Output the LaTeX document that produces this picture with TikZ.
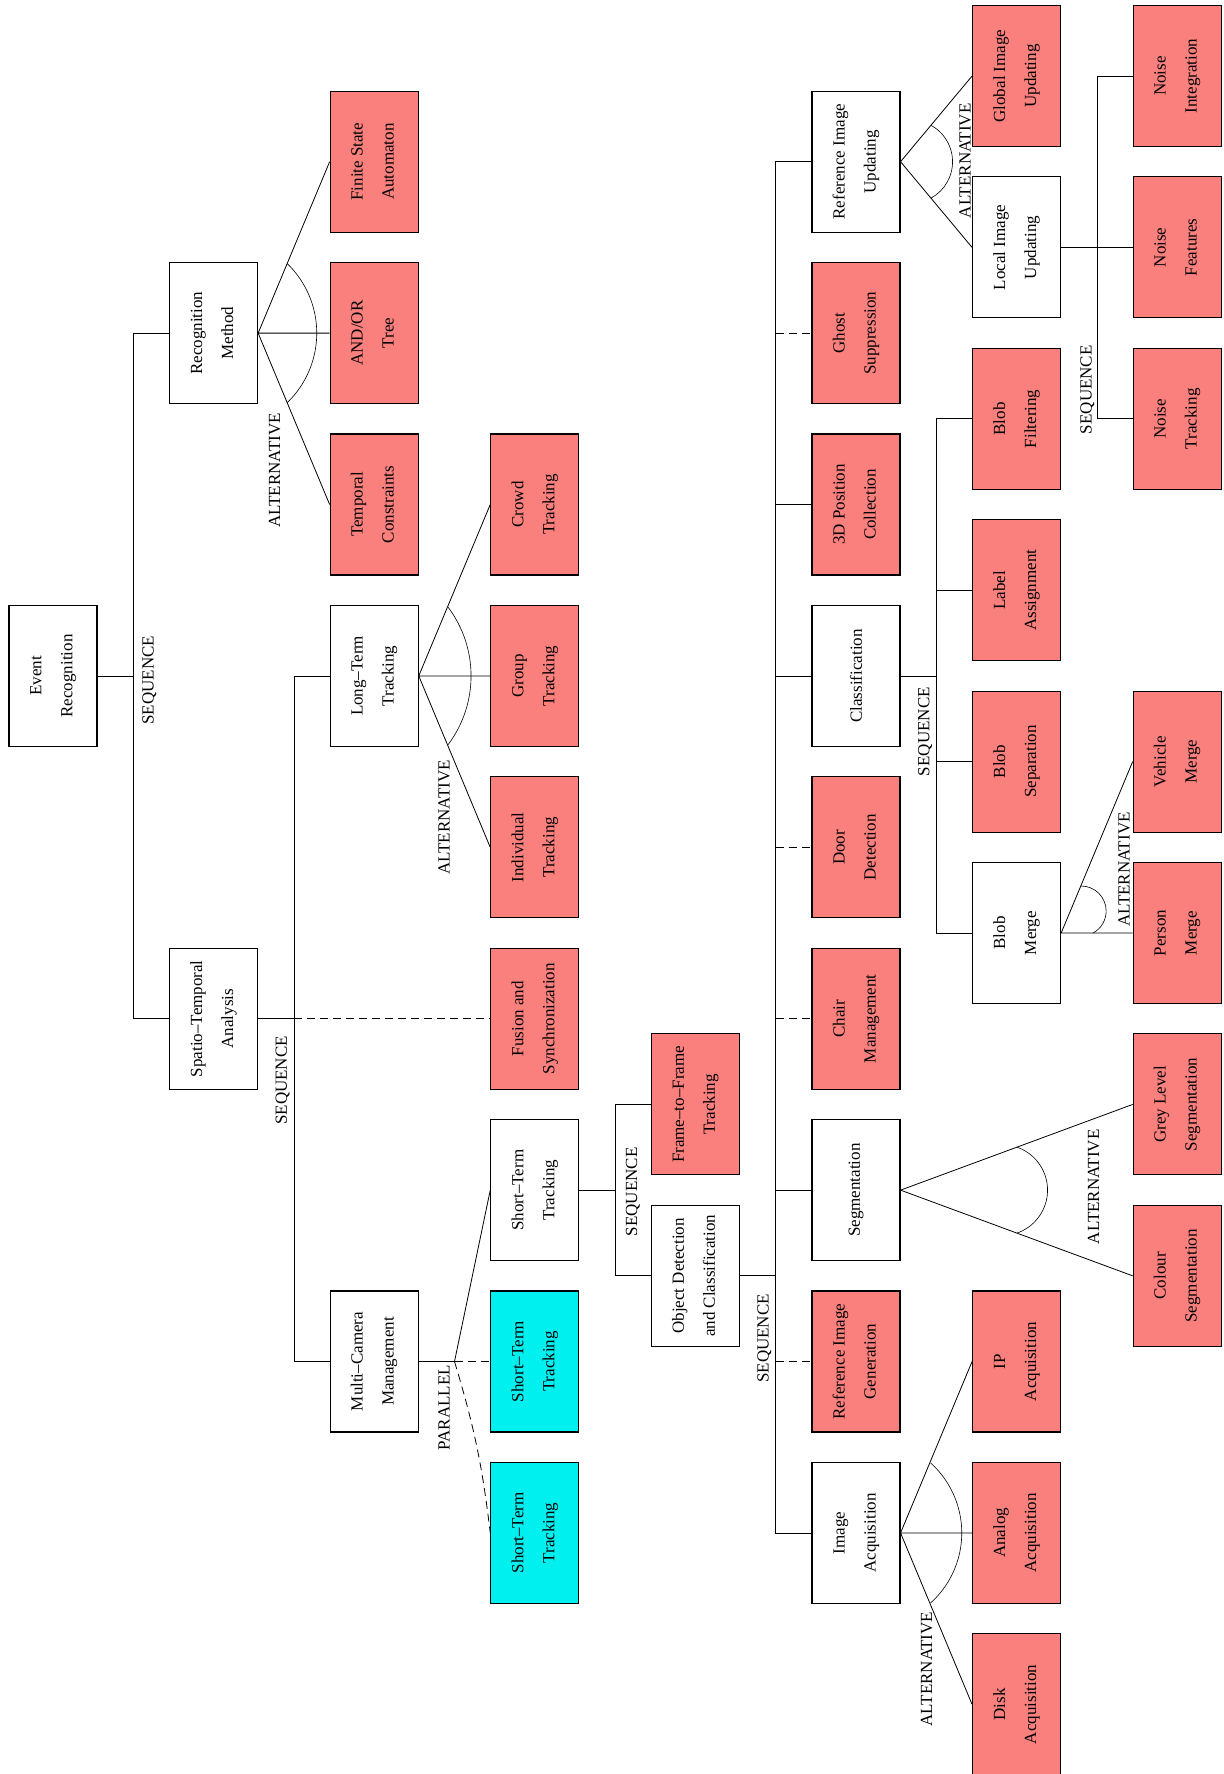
\documentclass[tikz,border=0pt]{standalone}
\usepackage{fontspec}
\setmainfont{Liberation Serif}
\usepackage{graphicx}
\usepackage{tikz}

\definecolor{salmon}{RGB}{250,128,125}
\definecolor{aqua}{RGB}{0,240,240}

\newcommand{\vlab}[2]{\rotatebox{90}{\begin{tabular}{@{}c@{}}#1\\[11pt]#2\end{tabular}}}
\newcommand{\vone}[1]{\rotatebox{90}{#1}}

\tikzset{
  box/.style={draw, line width=1.1pt, fill=white, minimum width=88pt, minimum height=141pt, inner sep=0pt},
  leaf/.style={box, fill=salmon},
  copy/.style={box, fill=aqua},
  rel/.style={rotate=90, inner sep=0pt},
  opt/.style={dash pattern=on 8pt off 5pt},
  alt/.style={line width=0.6pt}
}

\begin{document}
\begin{tikzpicture}[x=160.6pt, y=85.7pt, line width=0.8pt, font=\fontsize{17}{20}\selectfont]
      \useasboundingbox (-0.330,0.887) rectangle (7.291,-19.813);
      \node[name=er, box] at (0,-7){\vlab{Event}{Recognition}};
      \node[name=rm, box] at (1,-3){\vlab{Recognition}{Method}};
      \node[name=sta, box] at (1,-11){\vlab{Spatio--Temporal}{Analysis}};
      \node[name=fsa, leaf] at (2,-1){\vlab{Finite State}{Automaton}};
      \node[name=aot, leaf] at (2,-3){\vlab{AND/OR}{Tree}};
      \node[name=tc, leaf] at (2,-5){\vlab{Temporal}{Constraints}};
      \node[name=ltt, box] at (2,-7){\vlab{Long--Term}{Tracking}};
      \node[name=mcm, box] at (2,-15){\vlab{Multi--Camera}{Management}};
      \node[name=crowd, leaf] at (3,-5){\vlab{Crowd}{Tracking}};
      \node[name=group, leaf] at (3,-7){\vlab{Group}{Tracking}};
      \node[name=indiv, leaf] at (3,-9){\vlab{Individual}{Tracking}};
      \node[name=fus, leaf] at (3,-11){\vlab{Fusion and}{Synchronization}};
      \node[name=stt, box] at (3,-13){\vlab{Short--Term}{Tracking}};
      \node[name=stt2, copy] at (3,-15){\vlab{Short--Term}{Tracking}};
      \node[name=stt3, copy] at (3,-17){\vlab{Short--Term}{Tracking}};
      \node[name=ftf, leaf] at (4,-12){\vlab{Frame--to--Frame}{Tracking}};
      \node[name=odc, box] at (4,-14){\vlab{Object Detection}{and Classification}};
      \node[name=riu, box] at (5,-1){\vlab{Reference Image}{Updating}};
      \node[name=ghost, leaf] at (5,-3){\vlab{Ghost}{Suppression}};
      \node[name=pos, leaf] at (5,-5){\vlab{3D Position}{Collection}};
      \node[name=cls, box] at (5,-7){\vone{Classification}};
      \node[name=door, leaf] at (5,-9){\vlab{Door}{Detection}};
      \node[name=chair, leaf] at (5,-11){\vlab{Chair}{Management}};
      \node[name=seg, box] at (5,-13){\vone{Segmentation}};
      \node[name=rig, leaf] at (5,-15){\vlab{Reference Image}{Generation}};
      \node[name=ia, box] at (5,-17){\vlab{Image}{Acquisition}};
      \node[name=giu, leaf] at (6,0){\vlab{Global Image}{Updating}};
      \node[name=liu, box] at (6,-2){\vlab{Local Image}{Updating}};
      \node[name=bf, leaf] at (6,-4){\vlab{Blob}{Filtering}};
      \node[name=la, leaf] at (6,-6){\vlab{Label}{Assignment}};
      \node[name=bs, leaf] at (6,-8){\vlab{Blob}{Separation}};
      \node[name=bm, box] at (6,-10){\vlab{Blob}{Merge}};
      \node[name=ip, leaf] at (6,-15){\vlab{IP}{Acquisition}};
      \node[name=analog, leaf] at (6,-17){\vlab{Analog}{Acquisition}};
      \node[name=disk, leaf] at (6,-19){\vlab{Disk}{Acquisition}};
      \node[name=ni, leaf] at (7,0){\vlab{Noise}{Integration}};
      \node[name=nf, leaf] at (7,-2){\vlab{Noise}{Features}};
      \node[name=nt, leaf] at (7,-4){\vlab{Noise}{Tracking}};
      \node[name=vm, leaf] at (7,-8){\vlab{Vehicle}{Merge}};
      \node[name=pm, leaf] at (7,-10){\vlab{Person}{Merge}};
      \node[name=gls, leaf] at (7,-12){\vlab{Grey Level}{Segmentation}};
      \node[name=cs, leaf] at (7,-14){\vlab{Colour}{Segmentation}};
      \coordinate (j0) at (0.5,-7);
      \coordinate (j1) at (1.5,-11);
      \coordinate (j2) at (2.5,-15);
      \coordinate (j3) at (3.5,-13);
      \coordinate (j4) at (4.5,-14);
      \coordinate (j5) at (6.5,-2);
      \coordinate (j6) at (5.5,-7);
      \draw (er.east) -- (j0);
      \draw (rm.west) -| (j0) |- (sta.west);
      \draw (rm.east) -- (fsa.west) (rm.east) -- (aot.west) (rm.east) -- (tc.west);
      \draw[alt] ([xshift=-38pt]rm.east) ++(46:96.6pt) arc[start angle=46, end angle=-46, radius=96.6pt];
      \draw (sta.east) -- (j1);
      \draw (ltt.west) -| (j1) |- (mcm.west);
      \draw[opt] (j1) -- (fus.west);
      \draw (ltt.east) -- (crowd.west) (ltt.east) -- (group.west) (ltt.east) -- (indiv.west);
      \draw[alt] ([xshift=-62pt]ltt.east) ++(37:114.3pt) arc[start angle=37, end angle=-37, radius=114.3pt];
      \draw (mcm.east) -- (j2) -- (stt.west);
      \draw[opt] (j2) -- (stt2.west);
      \draw[opt] (j2) to[bend left=5] (stt3.west);
      \draw (stt.east) -- (j3);
      \draw (ftf.west) -| (j3) |- (odc.west);
      \draw (odc.east) -- (j4);
      \draw (riu.west) -| (j4) |- (ia.west);
      \draw (pos.west -| j4) -- (pos.west);
      \draw (cls.west -| j4) -- (cls.west);
      \draw (seg.west -| j4) -- (seg.west);
      \draw[opt] (ghost.west -| j4) -- (ghost.west);
      \draw[opt] (door.west -| j4) -- (door.west);
      \draw[opt] (chair.west -| j4) -- (chair.west);
      \draw[opt] (rig.west -| j4) -- (rig.west);
      \draw (riu.east) -- (giu.west) (riu.east) -- (liu.west);
      \draw[alt] ([xshift=10.5pt]riu.east) ++(61:41.5pt) arc[start angle=61, end angle=-61, radius=41.5pt];
      \draw (liu.east) -- (nf.west);
      \draw (ni.west) -| (j5) |- (nt.west);
      \draw (cls.east) -- (j6);
      \draw (bf.west) -| (j6) |- (bm.west);
      \draw (la.west -| j6) -- (la.west);
      \draw (bs.west -| j6) -- (bs.west);
      \draw (bm.east) -- (vm.west) (bm.east) -- (pm.west);
      \draw[alt] ([shift={(20pt,22pt)}]bm.east) ++(90:25pt) arc[start angle=90, end angle=-62, radius=25pt];
      \draw (seg.east) -- (gls.west) (seg.east) -- (cs.west);
      \draw[alt] ([xshift=101.5pt]seg.east) ++(70.5:45.5pt) arc[start angle=70.5, end angle=-70.5, radius=45.5pt];
      \draw (ia.east) -- (ip.west) (ia.east) -- (analog.west) (ia.east) -- (disk.west);
      \draw[alt] ([xshift=-33pt]ia.east) ++(48:94.2pt) arc[start angle=48, end angle=-48, radius=94.2pt];
      \node[name=s0, rel] at (0.6,-7.05){SEQUENCE};
      \node[name=a0, rel] at (1.38,-4.6){ALTERNATIVE};
      \node[name=s1, rel] at (1.43,-11.72){SEQUENCE};
      \node[name=a1, rel] at (2.435,-8.65){ALTERNATIVE};
      \node[name=p0, rel] at (2.435,-15.54){PARALLEL};
      \node[name=s2, rel] at (3.61,-13.02){SEQUENCE};
      \node[name=s3, rel] at (4.43,-14.73){SEQUENCE};
      \node[name=a2, rel] at (5.68,-0.99){ALTERNATIVE};
      \node[name=s4, rel] at (6.44,-3.66){SEQUENCE};
      \node[name=s5, rel] at (5.43,-7.65){SEQUENCE};
      \node[name=a3, rel] at (6.67,-9.26){ALTERNATIVE};
      \node[name=a4, rel] at (6.48,-12.96){ALTERNATIVE};
      \node[name=a5, rel] at (5.44,-18.59){ALTERNATIVE};
   \end{tikzpicture}
\end{document}
